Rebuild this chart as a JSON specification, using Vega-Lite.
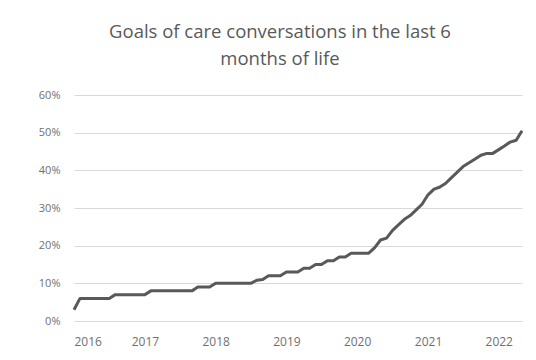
{
  "$schema": "https://vega.github.io/schema/vega-lite/v6.json",
  "autosize": "none",
  "width": 448,
  "height": 226,
  "padding": {"left": 74, "top": 95, "right": 14, "bottom": 39},
  "background": "white",
  "title": {
    "text": ["Goals of care conversations in the last 6", "months of life"],
    "font": "Open Sans",
    "fontSize": 18.5,
    "fontWeight": "normal",
    "color": "#595959",
    "lineHeight": 27,
    "anchor": "middle",
    "dx": -18,
    "offset": 21
  },
  "data": {
    "values": [
      {"date": "2016-01-01", "pct": 0.03},
      {"date": "2016-02-01", "pct": 0.06},
      {"date": "2016-03-01", "pct": 0.06},
      {"date": "2016-04-01", "pct": 0.06},
      {"date": "2016-05-01", "pct": 0.06},
      {"date": "2016-06-01", "pct": 0.06},
      {"date": "2016-07-01", "pct": 0.06},
      {"date": "2016-08-01", "pct": 0.07},
      {"date": "2016-09-01", "pct": 0.07},
      {"date": "2016-10-01", "pct": 0.07},
      {"date": "2016-11-01", "pct": 0.07},
      {"date": "2016-12-01", "pct": 0.07},
      {"date": "2017-01-01", "pct": 0.07},
      {"date": "2017-02-01", "pct": 0.08},
      {"date": "2017-03-01", "pct": 0.08},
      {"date": "2017-04-01", "pct": 0.08},
      {"date": "2017-05-01", "pct": 0.08},
      {"date": "2017-06-01", "pct": 0.08},
      {"date": "2017-07-01", "pct": 0.08},
      {"date": "2017-08-01", "pct": 0.08},
      {"date": "2017-09-01", "pct": 0.08},
      {"date": "2017-10-01", "pct": 0.09},
      {"date": "2017-11-01", "pct": 0.09},
      {"date": "2017-12-01", "pct": 0.09},
      {"date": "2018-01-01", "pct": 0.10},
      {"date": "2018-02-01", "pct": 0.10},
      {"date": "2018-03-01", "pct": 0.10},
      {"date": "2018-04-01", "pct": 0.10},
      {"date": "2018-05-01", "pct": 0.10},
      {"date": "2018-06-01", "pct": 0.10},
      {"date": "2018-07-01", "pct": 0.10},
      {"date": "2018-08-01", "pct": 0.108},
      {"date": "2018-09-01", "pct": 0.11},
      {"date": "2018-10-01", "pct": 0.12},
      {"date": "2018-11-01", "pct": 0.12},
      {"date": "2018-12-01", "pct": 0.12},
      {"date": "2019-01-01", "pct": 0.13},
      {"date": "2019-02-01", "pct": 0.13},
      {"date": "2019-03-01", "pct": 0.13},
      {"date": "2019-04-01", "pct": 0.14},
      {"date": "2019-05-01", "pct": 0.14},
      {"date": "2019-06-01", "pct": 0.15},
      {"date": "2019-07-01", "pct": 0.15},
      {"date": "2019-08-01", "pct": 0.16},
      {"date": "2019-09-01", "pct": 0.16},
      {"date": "2019-10-01", "pct": 0.17},
      {"date": "2019-11-01", "pct": 0.17},
      {"date": "2019-12-01", "pct": 0.18},
      {"date": "2020-01-01", "pct": 0.18},
      {"date": "2020-02-01", "pct": 0.18},
      {"date": "2020-03-01", "pct": 0.18},
      {"date": "2020-04-01", "pct": 0.195},
      {"date": "2020-05-01", "pct": 0.215},
      {"date": "2020-06-01", "pct": 0.22},
      {"date": "2020-07-01", "pct": 0.24},
      {"date": "2020-08-01", "pct": 0.255},
      {"date": "2020-09-01", "pct": 0.27},
      {"date": "2020-10-01", "pct": 0.28},
      {"date": "2020-11-01", "pct": 0.295},
      {"date": "2020-12-01", "pct": 0.31},
      {"date": "2021-01-01", "pct": 0.335},
      {"date": "2021-02-01", "pct": 0.35},
      {"date": "2021-03-01", "pct": 0.355},
      {"date": "2021-04-01", "pct": 0.365},
      {"date": "2021-05-01", "pct": 0.38},
      {"date": "2021-06-01", "pct": 0.395},
      {"date": "2021-07-01", "pct": 0.41},
      {"date": "2021-08-01", "pct": 0.42},
      {"date": "2021-09-01", "pct": 0.43},
      {"date": "2021-10-01", "pct": 0.44},
      {"date": "2021-11-01", "pct": 0.445},
      {"date": "2021-12-01", "pct": 0.445},
      {"date": "2022-01-01", "pct": 0.455},
      {"date": "2022-02-01", "pct": 0.465},
      {"date": "2022-03-01", "pct": 0.475},
      {"date": "2022-04-01", "pct": 0.48},
      {"date": "2022-05-01", "pct": 0.505}
    ]
  },
  "mark": {"type": "line", "color": "#595959", "strokeWidth": 3, "strokeJoin": "round"},
  "encoding": {
    "x": {
      "field": "date",
      "type": "temporal",
      "scale": {"type": "utc", "nice": false},
      "axis": {
        "title": null,
        "format": "%Y",
        "tickCount": {"interval": "year", "step": 1},
        "grid": false,
        "domain": false,
        "ticks": false,
        "labelFlush": true,
        "labelPadding": 15,
        "labelFont": "Open Sans",
        "labelFontSize": 12,
        "labelColor": "#6f6f6f"
      }
    },
    "y": {
      "field": "pct",
      "type": "quantitative",
      "scale": {"domain": [0, 0.6], "nice": false},
      "axis": {
        "title": null,
        "format": ".0%",
        "values": [0, 0.1, 0.2, 0.3, 0.4, 0.5, 0.6],
        "domain": false,
        "ticks": false,
        "labelPadding": 14,
        "labelFont": "Open Sans",
        "labelFontSize": 11,
        "labelColor": "#6f6f6f",
        "gridColor": "#d9d9d9",
        "gridWidth": 1
      }
    }
  },
  "config": {"view": {"stroke": null}}
}
